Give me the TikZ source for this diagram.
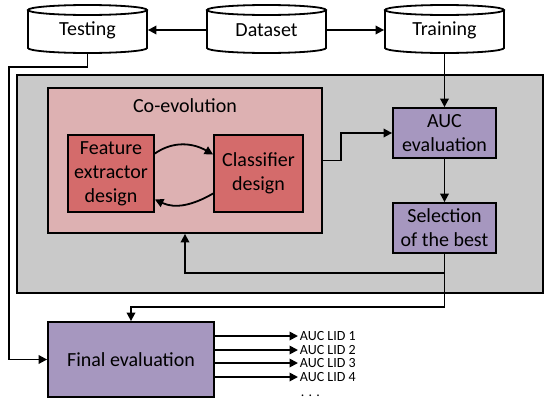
\documentclass[tikz,border=0pt]{standalone}
\usepackage{fontspec}
\setmainfont{Carlito}
\usetikzlibrary{arrows.meta,calc}
\definecolor{grayback}{RGB}{201,201,201}
\definecolor{pinkback}{RGB}{221,177,178}
\definecolor{redbox}{RGB}{212,107,107}
\definecolor{purplebox}{RGB}{166,151,191}
\begin{document}
\begin{tikzpicture}[x=1pt,y=-1pt,
  every path/.style={line width=1.8pt},
  conn/.style={line width=1.8pt,-{Triangle[length=8.5pt,width=8.5pt]}},
  mainfont/.style={font=\fontsize{20}{24}\selectfont},
  smallfont/.style={font=\fontsize{14}{15}\selectfont},
  boxstyle/.style={draw,line width=1.8pt,inner sep=0pt,align=center,mainfont},
  redstyle/.style={boxstyle,fill=redbox},
  purplestyle/.style={boxstyle,fill=purplebox},
  cyltext/.style={inner sep=0pt,mainfont,minimum width=119pt,minimum height=48pt}
]
\useasboundingbox (0,0) rectangle (547,399);
% background areas
\node[draw,fill=grayback,line width=1.8pt,minimum width=526pt,minimum height=218pt,inner sep=0pt] (gray) at (280,184) {};
\node[draw,fill=pinkback,line width=1.8pt,minimum width=274pt,minimum height=145pt,inner sep=0pt] (coevo) at (185,160.5) {};
\node[mainfont,inner sep=0pt] (coevotxt) at (185,106) {Co-evolution};
% cylinders
\foreach \cx/\nm/\tx in {87.5/test/Testing, 266.5/data/Dataset, 444.5/train/Training}{
  \draw[fill=white] (\cx-59.5,10) -- (\cx-59.5,48) arc[start angle=180,end angle=0,x radius=59.5,y radius=5] -- (\cx+59.5,10);
  \draw (\cx,10) ellipse[x radius=59.5,y radius=5];
  \node[cyltext] (\nm) at (\cx,30) {\tx};
}
% inner boxes
\node[redstyle,minimum width=86pt,minimum height=77pt] (fe) at (111,173.5) {Feature\\extractor\\design};
\node[redstyle,minimum width=89pt,minimum height=77pt] (cd) at (258.5,173.5) {Classifier\\design};
\node[purplestyle,minimum width=103pt,minimum height=50pt] (auc) at (444.5,133) {AUC\\evaluation};
\node[purplestyle,minimum width=103pt,minimum height=50pt] (sel) at (444.5,228) {Selection\\of the best};
\node[purplestyle,minimum width=166pt,minimum height=75pt] (fin) at (131,359.5) {Final evaluation};
% dataset arrows
\draw[conn] (data.west) -- (test.east);
\draw[conn] (data.east) -- (train.west);
% training to auc
\draw[conn] (444.5,53) -- (auc.north);
% testing to final
\coordinate (tb) at (87.5,53);
\draw[conn] (tb) -- (87.5,67) -- (9,67) |- (fin.west);
% co-evolution loop
\draw[conn] ($(fe.east)+(0,-20)$) to[out=35,in=150] ($(cd.west)+(0,-19)$);
\draw[conn] ($(cd.west)+(0,20)$) to[out=210,in=-25] ($(fe.east)+(0,26)$);
% coevo to auc
\draw[conn] (coevo.east) -- (341,160.5) |- (auc.west);
\draw[conn] (auc.south) -- (sel.north);
% feedback
\draw[conn] (sel.south) -- (444.5,273) -| (coevo.south);
\draw[conn] (444.5,273) -- (444.5,307) -| (fin.north);
% outputs
\foreach \yy/\k in {336/1,350/2,363/3,377/4}{
  \draw[conn] (fin.east |- 0,\yy) -- (298,\yy) node[anchor=west,inner sep=0pt,smallfont,xshift=1pt] (lid\k) {AUC LID \k};
}
\node[anchor=base west,inner sep=0pt,smallfont] (dots) at (300,396) {. . .};
\end{tikzpicture}
\end{document}
